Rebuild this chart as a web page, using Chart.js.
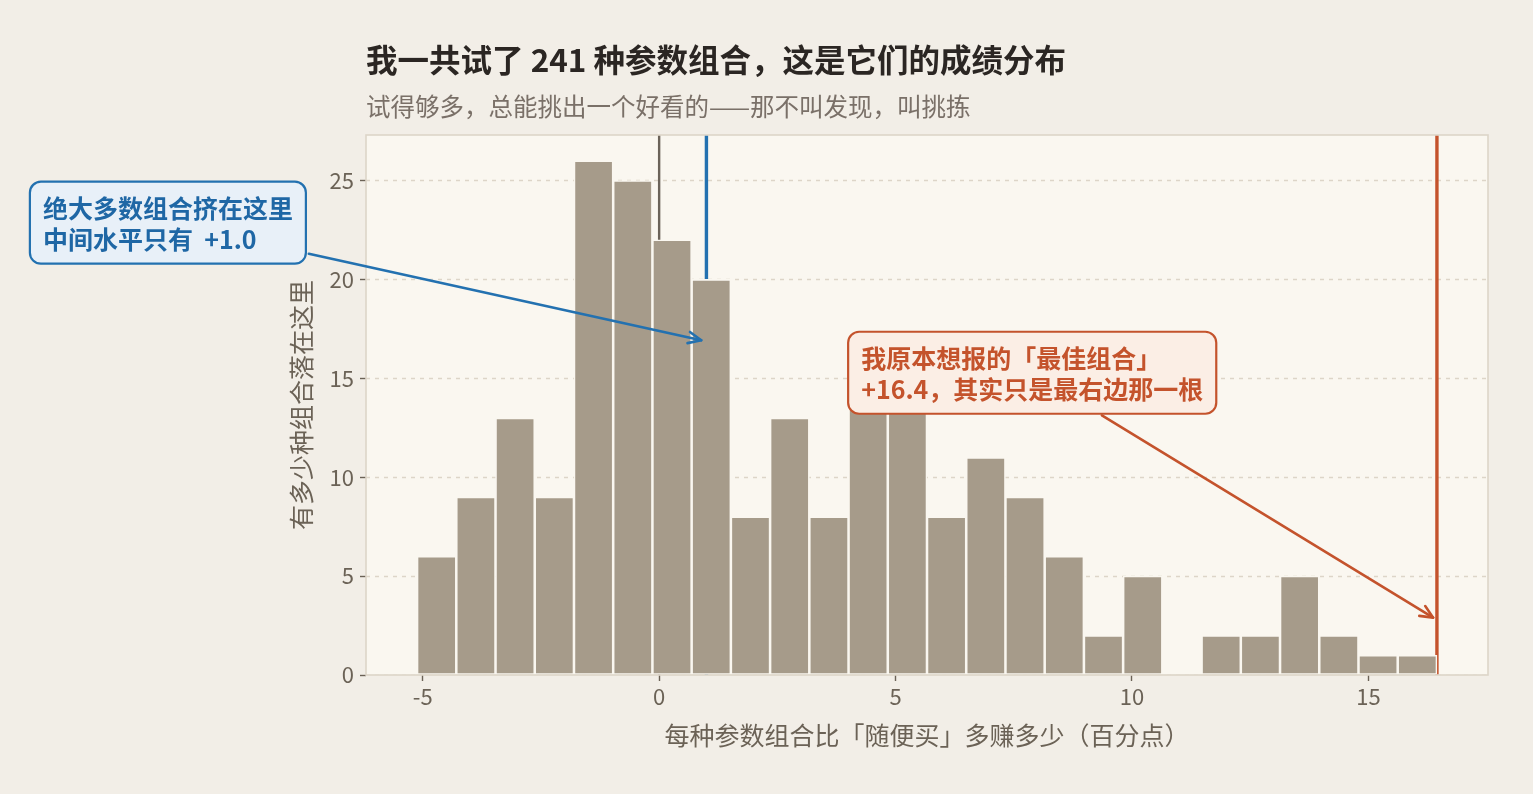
<!DOCTYPE html>
<html><head><meta charset="utf-8">
<script src="https://cdn.jsdelivr.net/npm/chart.js@4.4.1/dist/chart.umd.min.js"></script>
<style>html,body{margin:0;padding:0;background:#f2eee7;}canvas{display:block}</style>
</head><body>
<canvas id="c" width="1533" height="794" style="width:1533px;height:794px"></canvas>
<script>
// ---- data ----
const binCounts = [6, 9, 13, 9, 26, 25, 22, 20, 8, 13, 8, 14, 14, 8, 11, 9, 6, 2, 5, 0, 2, 2, 5, 2, 1, 1];
const lowestResult = -5.12;
const highestResult = 16.45;
const medianResult = 1.0;
const zeroResult = 0;
const xTickValues = [-5, 0, 5, 10, 15];
const yTickValues = [0, 5, 10, 15, 20, 25];
const titleText = '我一共试了 241 种参数组合，这是它们的成绩分布';
const subtitleText = '试得够多，总能挑出一个好看的——那不叫发现，叫挑拣';
const xAxisTitle = '每种参数组合比「随便买」多赚多少（百分点）';
const yAxisTitle = '有多少种组合落在这里';
const blueNoteLines = ['绝大多数组合挤在这里', '中间水平只有  +1.0'];
const redNoteLines = ['我原本想报的「最佳组合」', '+16.4，其实只是最右边那一根'];
const blueNoteAt = [-10.39, 22.87];
const blueArrowTip = [0.89, 16.92];
const redNoteAt = [7.89, 15.28];
const redArrowTip = [16.37, 2.9];

// ---- derived bins ----
const binWidth = (highestResult - lowestResult) / binCounts.length;
const binPoints = binCounts.map((c, i) => ({ x: lowestResult + (i + 0.5) * binWidth, y: c }));

const FONT = '"Noto Sans CJK SC", "Noto Sans", sans-serif';
const C = {
  bg: '#f2eee7', plot: '#faf7f0', frame: '#ddd5c8', grid: '#ddd5c8',
  bar: '#a69b8a', text: '#6b6256', title: '#2b2623', sub: '#7a7068',
  gray: '#6b6359', blue: '#2371b0', blueText: '#1f67a5', blueFill: '#e8f0f8',
  red: '#c4532c', redFill: '#fbeee5'
};

function drawArrow(ctx, from, to, color) {
  ctx.save();
  ctx.strokeStyle = color; ctx.lineWidth = 2.6; ctx.lineCap = 'round'; ctx.lineJoin = 'round';
  ctx.beginPath(); ctx.moveTo(from[0], from[1]); ctx.lineTo(to[0], to[1]); ctx.stroke();
  const a = Math.atan2(to[1] - from[1], to[0] - from[0]);
  const L = 14, W = 0.42;
  ctx.beginPath();
  ctx.moveTo(to[0] - L * Math.cos(a - W), to[1] - L * Math.sin(a - W));
  ctx.lineTo(to[0], to[1]);
  ctx.lineTo(to[0] - L * Math.cos(a + W), to[1] - L * Math.sin(a + W));
  ctx.stroke();
  ctx.restore();
}

function roundRect(ctx, x, y, w, h, r) {
  ctx.beginPath();
  ctx.moveTo(x + r, y); ctx.lineTo(x + w - r, y); ctx.arcTo(x + w, y, x + w, y + r, r);
  ctx.lineTo(x + w, y + h - r); ctx.arcTo(x + w, y + h, x + w - r, y + h, r);
  ctx.lineTo(x + r, y + h); ctx.arcTo(x, y + h, x, y + h - r, r);
  ctx.lineTo(x, y + r); ctx.arcTo(x, y, x + r, y, r); ctx.closePath();
}

function drawNote(chart, lines, at, tip, color, fill, textColor) {
  const ctx = chart.ctx, xs = chart.scales.x, ys = chart.scales.y;
  const cx = xs.getPixelForValue(at[0]), cy = ys.getPixelForValue(at[1]);
  const tx = xs.getPixelForValue(tip[0]), ty = ys.getPixelForValue(tip[1]);
  ctx.save();
  ctx.font = 'bold 25px ' + FONT;
  const tw = Math.max(...lines.map(l => ctx.measureText(l).width));
  const lineH = 31, padX = 13, padY = 10;
  const w = tw + padX * 2, h = lineH * lines.length + padY * 2;
  const x0 = cx - w / 2, y0 = cy - h / 2;
  const dx = tx - cx, dy = ty - cy;
  const sx = dx !== 0 ? (w / 2) / Math.abs(dx) : Infinity;
  const sy = dy !== 0 ? (h / 2) / Math.abs(dy) : Infinity;
  const s = Math.min(sx, sy);
  const d = Math.hypot(dx, dy);
  const start = [cx + dx * s + (dx / d) * 3, cy + dy * s + (dy / d) * 3];
  drawArrow(ctx, start, [tx, ty], color);
  roundRect(ctx, x0, y0, w, h, 11);
  ctx.fillStyle = fill; ctx.fill();
  ctx.lineWidth = 2.2; ctx.strokeStyle = color; ctx.stroke();
  ctx.fillStyle = textColor; ctx.textAlign = 'left'; ctx.textBaseline = 'middle';
  lines.forEach((l, i) => ctx.fillText(l, x0 + padX, y0 + padY + lineH * (i + 0.5) + 1));
  ctx.restore();
}

const decor = {
  id: 'decor',
  beforeDraw(chart) {
    const { ctx, chartArea: a } = chart;
    ctx.save();
    ctx.fillStyle = C.bg; ctx.fillRect(0, 0, chart.width, chart.height);
    ctx.fillStyle = C.plot; ctx.fillRect(a.left, a.top, a.right - a.left, a.bottom - a.top);
    ctx.restore();
  },
  beforeDatasetsDraw(chart) {
    const { ctx, chartArea: a } = chart, xs = chart.scales.x, ys = chart.scales.y;
    ctx.save();
    ctx.beginPath(); ctx.rect(a.left, a.top, a.right - a.left, a.bottom - a.top); ctx.clip();
    ctx.strokeStyle = C.grid; ctx.lineWidth = 1.3; ctx.setLineDash([4, 5]);
    yTickValues.forEach(v => {
      const y = Math.round(ys.getPixelForValue(v)) + 0.5;
      ctx.beginPath(); ctx.moveTo(a.left, y); ctx.lineTo(a.right, y); ctx.stroke();
    });
    ctx.setLineDash([]);
    const vline = (v, color, w) => {
      const x = xs.getPixelForValue(v);
      ctx.strokeStyle = color; ctx.lineWidth = w;
      ctx.beginPath(); ctx.moveTo(x, a.top); ctx.lineTo(x, a.bottom); ctx.stroke();
    };
    vline(zeroResult, C.gray, 2.4);
    vline(medianResult, C.blue, 3.4);
    vline(highestResult, C.red, 3.4);
    ctx.restore();
  },
  afterDraw(chart) {
    const { ctx, chartArea: a } = chart;
    ctx.save();
    ctx.strokeStyle = C.frame; ctx.lineWidth = 1.6;
    ctx.strokeRect(a.left, a.top, a.right - a.left, a.bottom - a.top);
    ctx.textAlign = 'left'; ctx.textBaseline = 'middle';
    ctx.fillStyle = C.title; ctx.font = 'bold 31.5px ' + FONT;
    ctx.fillText(titleText, a.left, 60);
    ctx.fillStyle = C.sub; ctx.font = '24.5px ' + FONT;
    ctx.fillText(subtitleText, a.left, 107);
    ctx.fillStyle = C.text; ctx.font = '25px ' + FONT; ctx.textAlign = 'center';
    ctx.fillText(xAxisTitle, (a.left + a.right) / 2, 735);
    ctx.translate(301, (a.top + a.bottom) / 2); ctx.rotate(-Math.PI / 2);
    ctx.fillText(yAxisTitle, 0, 0);
    ctx.restore();
    drawNote(chart, blueNoteLines, blueNoteAt, blueArrowTip, C.blue, C.blueFill, C.blueText);
    drawNote(chart, redNoteLines, redNoteAt, redArrowTip, C.red, C.redFill, C.red);
  }
};

new Chart(document.getElementById('c'), {
  type: 'bar',
  data: {
    datasets: [{
      data: binPoints,
      backgroundColor: C.bar,
      borderColor: C.plot,
      borderWidth: 1.6,
      borderSkipped: false,
      barPercentage: 1,
      categoryPercentage: 1
    }]
  },
  options: {
    responsive: false,
    animation: false,
    devicePixelRatio: 1,
    layout: { padding: { left: 0, top: 135, right: 45, bottom: 0 } },
    plugins: { legend: { display: false }, tooltip: { enabled: false }, title: { display: false } },
    scales: {
      x: {
        type: 'linear', min: -6.2, max: 17.53, offset: false,
        afterBuildTicks: s => { s.ticks = xTickValues.map(v => ({ value: v })); },
        afterFit: s => { s.height = 794 - 675; },
        ticks: { color: C.text, font: { family: FONT, size: 22 }, padding: 2, maxRotation: 0 },
        grid: { offset: false, drawOnChartArea: false, drawTicks: true, tickLength: 6, tickColor: C.text, tickWidth: 1.4 },
        border: { display: false }
      },
      y: {
        type: 'linear', min: 0, max: 27.3,
        afterBuildTicks: s => { s.ticks = yTickValues.map(v => ({ value: v })); },
        afterFit: s => { s.width = 366; },
        ticks: { color: C.text, font: { family: FONT, size: 22 }, padding: 6 },
        grid: { drawOnChartArea: false, drawTicks: true, tickLength: 6, tickColor: C.text, tickWidth: 1.4 },
        border: { display: false }
      }
    }
  },
  plugins: [decor]
});
</script>
</body></html>
